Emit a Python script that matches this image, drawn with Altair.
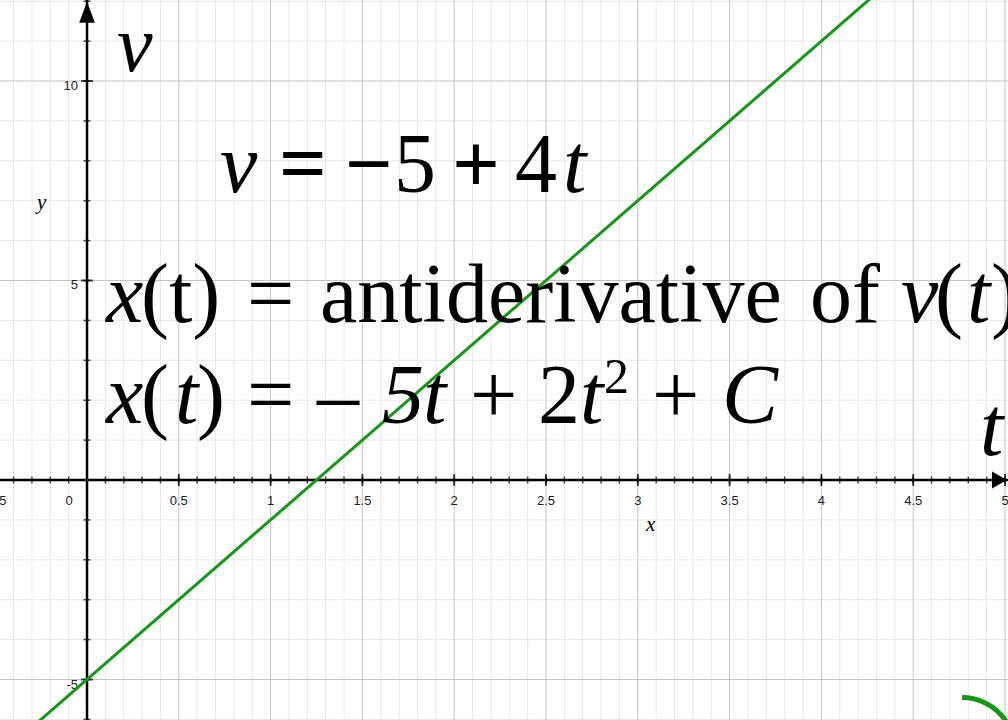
import altair as alt
import numpy as np
import pandas as pd

# ---- data -------------------------------------------------------------
# velocity line v = -5 + 4t, drawn across the visible t range
line_t = [-0.5, 5.0]
line_v = [-5 + 4 * t for t in line_t]

x_tick_values = [-0.5, 0, 0.5, 1, 1.5, 2, 2.5, 3, 3.5, 4, 4.5, 5]
x_tick_labels = ["-0.5", "0", "0.5", "1", "1.5", "2", "2.5", "3", "3.5", "4", "4.5", "5"]
y_tick_values = [-5, 5, 10]
y_tick_labels = ["-5", "5", "10"]

# ---- scales (plot area fills the whole canvas) -------------------------
W, H = 1008, 720
xs = alt.Scale(domain=[-0.4739, 5.0163], nice=False, zero=False)
ys = alt.Scale(domain=[-6.015, 12.03], nice=False, zero=False)
X = lambda f: alt.X(f, type="quantitative", scale=xs, axis=None)
Y = lambda f: alt.Y(f, type="quantitative", scale=ys, axis=None)

GREEN = "#18961a"
SERIF = "Liberation Serif"
SANS = "Liberation Sans"

# ---- grid -------------------------------------------------------------
tenths = np.round(np.arange(-0.4, 5.01, 0.1), 1)
minor_x = pd.DataFrame({"t": [t for t in tenths if abs(t * 2 - round(t * 2)) > 1e-6]})
major_x = pd.DataFrame({"t": [t for t in tenths if abs(t * 2 - round(t * 2)) < 1e-6 and t != 0]})
units = np.arange(-6, 13)
minor_y = pd.DataFrame({"v": [v for v in units if v % 5 != 0]})
major_y = pd.DataFrame({"v": [v for v in units if v % 5 == 0 and v != 0]})

grid = [
    alt.Chart(minor_x).mark_rule(color="#e8e8e8", strokeWidth=1).encode(x=X("t")),
    alt.Chart(minor_y).mark_rule(color="#e8e8e8", strokeWidth=1).encode(y=Y("v")),
    alt.Chart(major_x).mark_rule(color="#c4c4c4", strokeWidth=1).encode(x=X("t")),
    alt.Chart(major_y).mark_rule(color="#c4c4c4", strokeWidth=1).encode(y=Y("v")),
]

# ---- axes through the origin ------------------------------------------
origin = pd.DataFrame({"z": [0]})
axes = [
    alt.Chart(origin).mark_rule(color="black", strokeWidth=2.5).encode(x=X("z")),
    alt.Chart(origin).mark_rule(color="black", strokeWidth=2.5).encode(y=Y("z")),
]

x_minor_ticks = pd.DataFrame({"t": [t for t in tenths if t != 0], "z": 0})
x_major_ticks = pd.DataFrame({"t": [t for t in x_tick_values if t != 0], "z": 0})
y_minor_ticks = pd.DataFrame({"v": [v for v in units if v != 0], "z": 0})
y_major_ticks = pd.DataFrame({"v": [-5, 5, 10], "z": 0})

ticks = [
    alt.Chart(x_minor_ticks).mark_tick(orient="vertical", size=7, thickness=1.5, color="black")
    .encode(x=X("t"), y=Y("z")),
    alt.Chart(x_major_ticks).mark_tick(orient="vertical", size=12, thickness=2, color="black")
    .encode(x=X("t"), y=Y("z")),
    alt.Chart(y_minor_ticks).mark_tick(orient="horizontal", size=7, thickness=1.5, color="black")
    .encode(x=X("z"), y=Y("v")),
    alt.Chart(y_major_ticks).mark_tick(orient="horizontal", size=12, thickness=2, color="black")
    .encode(x=X("z"), y=Y("v")),
]

arrow_df = pd.DataFrame({"t": [0.0, 4.970], "v": [11.72, 0.0], "dir": ["up", "right"]})
arrows = [
    alt.Chart(arrow_df[arrow_df.dir == "up"]).mark_point(
        shape="M0,-1 L0.75,1 L-0.75,1 Z", size=441, filled=True, color="black", opacity=1
    ).encode(x=X("t"), y=Y("v")),
    alt.Chart(arrow_df[arrow_df.dir == "right"]).mark_point(
        shape="M0.88,0 L-0.88,-1 L-0.88,1 Z", size=289, filled=True, color="black", opacity=1
    ).encode(x=X("t"), y=Y("v")),
]

# ---- tick labels ------------------------------------------------------
xl = pd.DataFrame({"t": x_tick_values, "label": x_tick_labels})
yl = pd.DataFrame({"v": y_tick_values, "label": y_tick_labels})

labels = [
    alt.Chart(xl[xl.t != 0]).mark_text(font=SANS, fontSize=13, color="#222222", baseline="middle")
    .encode(x=X("t"), y=alt.value(501), text="label:N"),
    alt.Chart(xl[xl.t == 0]).mark_text(font=SANS, fontSize=13, color="#222222", baseline="middle", dx=-18)
    .encode(x=X("t"), y=alt.value(501), text="label:N"),
    alt.Chart(yl).mark_text(font=SANS, fontSize=13, color="#222222", baseline="middle", align="right", dy=5)
    .encode(x=alt.value(78), y=Y("v"), text="label:N"),
    alt.Chart(origin).mark_text(text="x", font=SERIF, fontSize=21, fontStyle="italic", align="left")
    .encode(x=alt.value(646), y=alt.value(525)),
    alt.Chart(origin).mark_text(text="y", font=SERIF, fontSize=21, fontStyle="italic", align="left")
    .encode(x=alt.value(37), y=alt.value(203)),
]

# ---- the velocity line and the arc ------------------------------------
line = alt.Chart(pd.DataFrame({"t": line_t, "v": line_v})).mark_line(
    color=GREEN, strokeWidth=3, clip=True
).encode(x=X("t"), y=Y("v"))

arc = alt.Chart(origin).mark_arc(
    theta=0, theta2=1.7, radius=55, radius2=50, color=GREEN
).encode(x=alt.value(962), y=alt.value(750))

# ---- equation text ----------------------------------------------------
def seg(txt, x, y, size=84, style="normal", weight="normal"):
    return alt.Chart(origin).mark_text(
        text=txt, font=SERIF, fontSize=size, fontStyle=style, fontWeight=weight,
        align="left", baseline="alphabetic", color="black",
    ).encode(x=alt.value(x), y=alt.value(y))

I, B = "italic", "bold"
text = [
    # axis names
    seg("v", 117, 71, 80, I),
    seg("t", 980, 455, 84, I),
    # v = -5 + 4t
    seg("v", 220, 192, 84, I),
    seg("=", 279, 192, 84, weight=B),
    seg("\u2212", 345, 192, 84, weight=B),
    seg("5", 394, 192, 84),
    seg("+", 452, 192, 84, weight=B),
    seg("4", 515, 192, 84),
    seg("t", 563, 192, 84, I),
    # x(t) = antiderivative of v(t)
    seg("x", 106, 322, 84, I),
    seg("(t)", 141, 322, 84),
    seg("=", 247, 322, 84),
    seg("antiderivative", 320, 322, 84),
    seg("of", 810, 322, 84),
    seg("v", 901, 322, 84, I),
    seg("(", 935, 322, 84),
    seg("t", 967, 322, 84, I),
    seg(")", 991, 322, 84),
    # x(t) = - 5t + 2t^2 + C
    seg("x", 106, 423, 84, I),
    seg("(", 141, 423, 84),
    seg("t", 175, 423, 84, I),
    seg(")", 197, 423, 84),
    seg("=", 247, 423, 84),
    seg("\u2013", 317, 423, 84),
    seg("5", 382, 423, 84, I),
    seg("t", 423, 423, 84, I),
    seg("+", 470, 423, 84),
    seg("2", 538, 423, 84),
    seg("t", 580, 423, 84, I),
    seg("2", 604, 393, 50),
    seg("+", 652, 423, 84),
    seg("C", 722, 423, 84, I),
]

chart = alt.layer(*grid, *axes, *ticks, *arrows, *labels, line, arc, *text).properties(
    width=W, height=H, padding=0, autosize="none", background="white"
).configure_view(stroke=None)

chart.save("out.html", embed_options={"renderer": "svg", "actions": False})
